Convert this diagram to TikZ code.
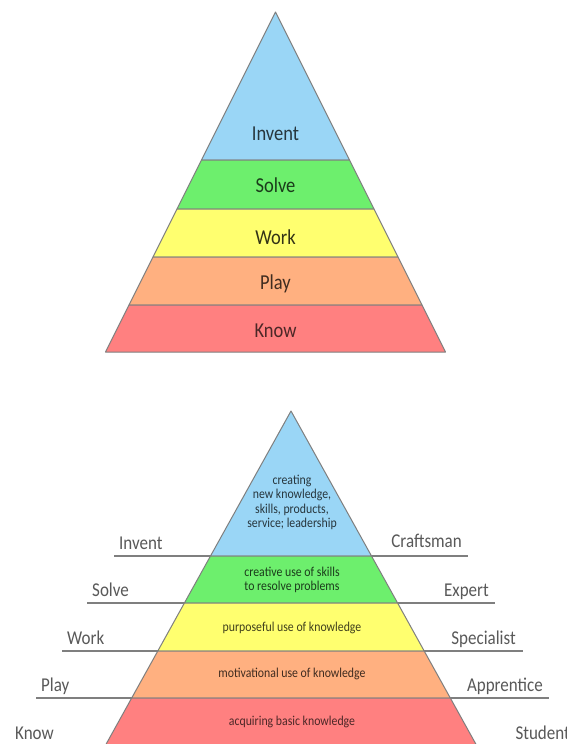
\documentclass[tikz,border=0pt]{standalone}
\usepackage{fontspec}
\setmainfont{Carlito}
\usepackage{tikz}
\usetikzlibrary{positioning}

\definecolor{inventblue}{HTML}{9AD6F6}
\definecolor{solvegreen}{HTML}{6DEF6D}
\definecolor{workyellow}{HTML}{FFFF6F}
\definecolor{playorange}{HTML}{FFB080}
\definecolor{knowred}{HTML}{FF8080}
\definecolor{edgegray}{HTML}{7F7F7F}
\definecolor{labelgray}{HTML}{595959}

\tikzset{
	band/.style={draw=edgegray, line width=1pt, line join=round},
	sideline/.style={draw=edgegray, line width=1.6pt},
	toplabel/.style={font=\fontsize{18.5}{20}\selectfont, yscale=1.15, anchor=base, inner sep=0pt},
	inlabel/.style={font=\fontsize{11.8}{12.4}\selectfont, yscale=1.15, align=center, inner sep=0pt},
	sidelabel/.style={font=\fontsize{17}{19}\selectfont, text=labelgray, yscale=1.15, inner sep=0pt}
}

\begin{document}
\begin{tikzpicture}[x=1pt, y=-1pt]
				
				\useasboundingbox (0,0) rectangle (567,744);
				\clip (0,0) rectangle (567,744);
				
				\fill[white] (0,0) rectangle (567,744);
				
				\filldraw[band, fill=inventblue] (275.5,12) -- (349.5,160) -- (201.5,160) -- cycle;
				\filldraw[band, fill=solvegreen] (201.5,160) -- (349.5,160) -- (374,209) -- (177,209) -- cycle;
				\filldraw[band, fill=workyellow] (177,209) -- (374,209) -- (398,257) -- (153,257) -- cycle;
				\filldraw[band, fill=playorange] (153,257) -- (398,257) -- (422,305) -- (129,305) -- cycle;
				\filldraw[band, fill=knowred] (129,305) -- (422,305) -- (445.5,352) -- (105.5,352) -- cycle;
				
				\node [toplabel, text=inventblue!25!black] (top-invent) at (275.5,140) {Invent};
				\node [toplabel, text=solvegreen!25!black] (top-solve) at (275.5,192) {Solve};
				\node [toplabel, text=workyellow!20!black] (top-work) at (275.5,244) {Work};
				\node [toplabel, text=playorange!25!black] (top-play) at (275.5,289) {Play};
				\node [toplabel, text=knowred!30!black] (top-know) at (275.5,337) {Know};
				
				\coordinate (l-invent) at (114,556);
				\coordinate (r-invent) at (468,556);
				\coordinate (l-solve) at (87,603);
				\coordinate (r-solve) at (495,603);
				\coordinate (l-work) at (62,651);
				\coordinate (r-work) at (523,651);
				\coordinate (l-play) at (36,698);
				\coordinate (r-play) at (549,698);
				\coordinate (l-know) at (10,746);
				\coordinate (r-know) at (576,746);
				
				\draw [sideline] (l-invent) -- (r-invent);
				\draw [sideline] (l-solve) -- (r-solve);
				\draw [sideline] (l-work) -- (r-work);
				\draw [sideline] (l-play) -- (r-play);
				\draw [sideline] (l-know) -- (r-know);
				
				\filldraw[band, fill=inventblue] (291,411) -- (371.5,556) -- (210.5,556) -- cycle;
				\filldraw[band, fill=solvegreen] (210.5,556) -- (371.5,556) -- (397.6,603) -- (184.4,603) -- cycle;
				\filldraw[band, fill=workyellow] (184.4,603) -- (397.6,603) -- (424.2,651) -- (157.8,651) -- cycle;
				\filldraw[band, fill=playorange] (157.8,651) -- (424.2,651) -- (450.3,698) -- (131.7,698) -- cycle;
				\filldraw[band, fill=knowred] (131.7,698) -- (450.3,698) -- (484.7,760) -- (97.3,760) -- cycle;
				
				\node [inlabel, text=inventblue!25!black] (desc-invent) at (292,502.5) {creating\\new knowledge,\\skills, products,\\service; leadership};
				\node [inlabel, text=solvegreen!25!black] (desc-solve) at (292,580) {creative use of skills\\to resolve problems};
				\node [inlabel, text=workyellow!25!black] (desc-work) at (292,628) {purposeful use of knowledge};
				\node [inlabel, text=playorange!25!black] (desc-play) at (292,674) {motivational use of knowledge};
				\node [inlabel, text=knowred!30!black] (desc-know) at (292,722) {acquiring basic knowledge};
				
				\node [sidelabel, anchor=base west] (lab-invent) at (119,549) {Invent};
				\node [sidelabel, anchor=base west] (lab-solve) at (92,596) {Solve};
				\node [sidelabel, anchor=base west] (lab-work) at (67,644) {Work};
				\node [sidelabel, anchor=base west] (lab-play) at (41,691) {Play};
				\node [sidelabel, anchor=base west] (lab-know) at (15,739) {Know};
				
				\node [sidelabel, anchor=base east] (lab-craftsman) at (462,547) {Craftsman};
				\node [sidelabel, anchor=base east] (lab-expert) at (489,596) {Expert};
				\node [sidelabel, anchor=base east] (lab-specialist) at (516,644) {Specialist};
				\node [sidelabel, anchor=base east] (lab-apprentice) at (543,691) {Apprentice};
				\node [sidelabel, anchor=base east] (lab-student) at (570,739) {Student};
		\end{tikzpicture}
\end{document}
